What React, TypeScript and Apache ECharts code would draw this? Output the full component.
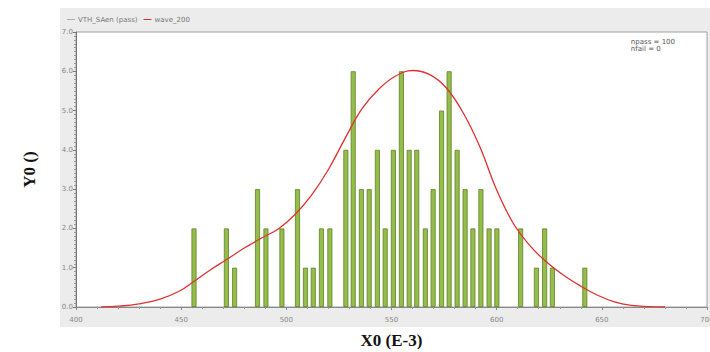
import React, { useEffect, useRef } from "react";
import * as echarts from "echarts";

const binCenters = [456.1, 471.5, 475.4, 486.3, 490.3, 497.9, 505.3, 509.1, 512.8, 516.7, 520.7, 528.3, 531.8, 535.7, 539.4, 543.3, 547.0, 550.9, 554.7, 558.4, 562.0, 566.1, 569.8, 573.8, 577.4, 581.2, 585.0, 588.7, 592.5, 596.4, 600.1, 611.4, 618.9, 622.8, 626.5, 641.9];
const binCounts = [2, 2, 1, 3, 2, 2, 3, 1, 1, 2, 2, 4, 6, 3, 3, 4, 2, 4, 6, 4, 4, 2, 3, 5, 6, 4, 3, 2, 3, 2, 2, 2, 1, 2, 1, 1];

const waveX = [412, 420, 430, 440, 449, 456, 464, 472, 480, 488, 496, 504, 512, 520, 528, 536, 544, 552, 560, 568, 576, 584, 592, 600, 608, 616, 624, 632, 640, 648, 656, 664, 672, 680];
const waveY = [0, 0.02, 0.08, 0.2, 0.4, 0.65, 0.95, 1.22, 1.5, 1.75, 1.98, 2.35, 2.85, 3.5, 4.3, 5.05, 5.55, 5.88, 6.02, 5.92, 5.58, 4.95, 4.08, 2.98, 2.12, 1.55, 1.13, 0.8, 0.53, 0.3, 0.13, 0.04, 0.01, 0];

const xTicks = { min: 400, max: 700, interval: 50 };
const yTicks = { min: 0, max: 7, interval: 1 };

const barName = "VTH_SAen (pass)";
const waveName = "wave_200";
const statLines = ["npass = 100", "nfail = 0"];

export default function App() {
  const ref = useRef<HTMLDivElement>(null);
  useEffect(() => {
    if (!ref.current) return;
    const chart = echarts.init(ref.current, null, { renderer: "svg" });
    chart.setOption({
      animation: false,
      backgroundColor: "#ffffff",
      graphic: [
        {
          type: "rect",
          z: -10,
          silent: true,
          shape: { x: 60, y: 8, width: 650, height: 319 },
          style: { fill: "#ececec" },
        },
        {
          type: "text",
          right: 35,
          top: 38,
          z: 10,
          style: {
            text: statLines.join("\n"),
            fill: "#555",
            font: "7px 'DejaVu Sans'",
            align: "right",
            lineHeight: 7,
          },
        },
      ],
      legend: {
        left: 62,
        top: 11,
        itemWidth: 8,
        itemHeight: 1,
        itemGap: 6,
        icon: "rect",
        textStyle: { fontSize: 7, color: "#777", fontFamily: "DejaVu Sans", padding: [0, 0, 0, -2] },
        data: [
          { name: barName, itemStyle: { color: "#aaaaaa", borderWidth: 0 } },
          { name: waveName, itemStyle: { color: "#e03030", borderWidth: 0 }, lineStyle: { color: "#e03030" } },
        ],
      },
      grid: {
        left: 76,
        right: 3,
        top: 32,
        bottom: 45,
        containLabel: false,
        outerBoundsMode: "none",
        show: true,
        backgroundColor: "#ffffff",
        borderColor: "#a0a0a0",
        borderWidth: 1,
      },
      xAxis: {
        type: "value",
        min: xTicks.min,
        max: xTicks.max,
        interval: xTicks.interval,
        name: "X0 (E-3)",
        nameLocation: "middle",
        nameGap: 25,
        nameTextStyle: { fontFamily: "Liberation Serif", fontWeight: "bold", fontSize: 17, color: "#111" },
        axisLine: { lineStyle: { color: "#888" } },
        axisTick: { length: 3, lineStyle: { color: "#888" } },
        minorTick: { show: true, splitNumber: 5, length: 2, lineStyle: { color: "#999" } },
        axisLabel: { fontSize: 7, color: "#888", fontFamily: "DejaVu Sans", margin: 9 },
        splitLine: { show: false },
      },
      yAxis: {
        type: "value",
        min: yTicks.min,
        max: yTicks.max,
        interval: yTicks.interval,
        name: "Y0 ()",
        nameLocation: "middle",
        nameGap: 38,
        nameTextStyle: { fontFamily: "Liberation Serif", fontWeight: "bold", fontSize: 17, color: "#111" },
        axisLine: { show: true, lineStyle: { color: "#777" } },
        axisTick: { show: true, length: 3, lineStyle: { color: "#777" } },
        minorTick: { show: true, splitNumber: 10, length: 2, lineStyle: { color: "#999" } },
        axisLabel: { fontSize: 7, color: "#888", fontFamily: "DejaVu Sans", margin: 3, formatter: (v: number) => v.toFixed(1) },
        splitLine: { show: false },
      },
      series: [
        {
          name: barName,
          type: "bar",
          barWidth: 5,
          data: binCenters.map((x, i) => [x, binCounts[i]]),
          itemStyle: { color: "#94bd4c", borderColor: "#5f8226", borderWidth: 0.8 },
        },
        {
          name: waveName,
          type: "line",
          smooth: 0.4,
          showSymbol: false,
          data: waveX.map((x, i) => [x, waveY[i]]),
          lineStyle: { color: "#e03030", width: 1.3 },
          itemStyle: { color: "#e03030" },
          z: 5,
        },
      ],
    });
    return () => chart.dispose();
  }, []);
  return (
    <div
      ref={ref}
      style={{ position: "absolute", left: 0, top: 0, width: 710, height: 352 }}
    />
  );
}
